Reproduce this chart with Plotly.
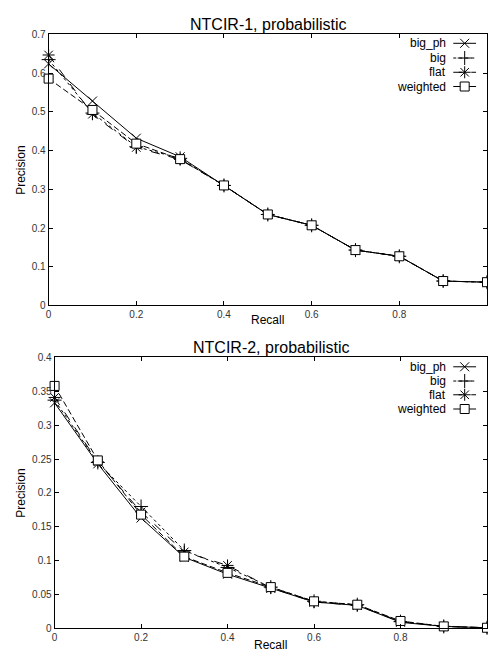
import plotly.graph_objects as go

W, H = 488, 657

RECALL = [0.0, 0.1, 0.2, 0.3, 0.4, 0.5, 0.6, 0.7, 0.8, 0.9, 1.0]

# NTCIR-1, probabilistic
N1_BIG_PH = [0.624, 0.528, 0.432, 0.384, 0.310, 0.235, 0.207, 0.143, 0.127, 0.063, 0.060]
N1_BIG = [0.635, 0.497, 0.410, 0.380, 0.310, 0.235, 0.207, 0.143, 0.127, 0.063, 0.060]
N1_FLAT = [0.647, 0.494, 0.408, 0.377, 0.310, 0.235, 0.207, 0.143, 0.127, 0.063, 0.060]
N1_WEIGHTED = [0.586, 0.505, 0.418, 0.378, 0.310, 0.235, 0.207, 0.143, 0.127, 0.063, 0.060]

# NTCIR-2, probabilistic
N2_BIG_PH = [0.333, 0.243, 0.163, 0.105, 0.080, 0.059, 0.039, 0.034, 0.009, 0.003, 0.001]
N2_BIG = [0.337, 0.245, 0.180, 0.115, 0.090, 0.061, 0.040, 0.035, 0.010, 0.003, 0.001]
N2_FLAT = [0.341, 0.246, 0.172, 0.113, 0.093, 0.060, 0.039, 0.034, 0.010, 0.003, 0.001]
N2_WEIGHTED = [0.358, 0.248, 0.168, 0.106, 0.082, 0.061, 0.040, 0.035, 0.011, 0.003, 0.001]

SERIES_NAMES = ["big_ph", "big", "flat", "weighted"]
TITLES = ["NTCIR-1, probabilistic", "NTCIR-2, probabilistic"]
X_TICKS = [0, 0.2, 0.4, 0.6, 0.8, 1.0]
X_TICK_TEXT = ["0", "0.2", "0.4", "0.6", "0.8", "1"]
Y1_TICKS = [0, 0.1, 0.2, 0.3, 0.4, 0.5, 0.6, 0.7]
Y1_TICK_TEXT = ["0", "0.1", "0.2", "0.3", "0.4", "0.5", "0.6", "0.7"]
Y2_TICKS = [0, 0.05, 0.1, 0.15, 0.2, 0.25, 0.3, 0.35, 0.4]
Y2_TICK_TEXT = ["0", "0.05", "0.1", "0.15", "0.2", "0.25", "0.3", "0.35", "0.4"]

FONT = "Liberation Sans, Arial, Helvetica, sans-serif"
STYLES = {
    "big_ph": dict(dash="solid", symbol="x-thin", size=9, fill="black"),
    "big": dict(dash="dot", symbol="cross-thin", size=10, fill="black"),
    "flat": dict(dash="dash", symbol="asterisk", size=10, fill="black"),
    "weighted": dict(dash="6px,3px", symbol="square", size=9, fill="white"),
}

# panel boxes in page pixels; x = 1 sits on the right edge of the page
PANELS = [
    dict(left=46, top=29, bottom=305, legend_y=[38, 53, 67.5, 82], recall_y=320),
    dict(left=52, top=358, bottom=634, legend_y=[367.5, 382, 396, 410.5], recall_y=651),
]

fig = go.Figure()


def add_series(xa, ya, name, ys):
    st = STYLES[name]
    fig.add_trace(go.Scatter(
        x=RECALL, y=ys, mode="lines+markers", name=name, xaxis=xa, yaxis=ya,
        showlegend=False, cliponaxis=False,
        line=dict(color="black", width=1, dash=st["dash"]),
        marker=dict(symbol=st["symbol"], size=st["size"], color=st["fill"],
                    line=dict(color="black", width=1)),
    ))


for (xa, ya), data in zip([("x", "y"), ("x2", "y2")], [
    (N1_BIG_PH, N1_BIG, N1_FLAT, N1_WEIGHTED),
    (N2_BIG_PH, N2_BIG, N2_FLAT, N2_WEIGHTED),
]):
    for name, ys in zip(SERIES_NAMES, data):
        add_series(xa, ya, name, ys)

# hand-drawn legends (text left of the sample, gnuplot style) on a page-pixel overlay axis
for p in PANELS:
    for name, yy in zip(SERIES_NAMES, p["legend_y"]):
        st = STYLES[name]
        fig.add_trace(go.Scatter(
            x=[454, 477], y=[yy, yy], mode="lines", xaxis="x3", yaxis="y3", showlegend=False,
            line=dict(color="black", width=1, dash=st["dash"] if name != "weighted" else "solid"),
            hoverinfo="skip",
        ))
        fig.add_trace(go.Scatter(
            x=[465.5], y=[yy], mode="markers", xaxis="x3", yaxis="y3", showlegend=False,
            marker=dict(symbol=st["symbol"], size=st["size"], color=st["fill"],
                        line=dict(color="black", width=1)),
            hoverinfo="skip",
        ))
        fig.add_annotation(x=449, y=yy, xref="x3", yref="y3", text=name, showarrow=False,
                           xanchor="right", yanchor="middle",
                           font=dict(family=FONT, size=12, color="black"))

for p, title in zip(PANELS, TITLES):
    cx = (p["left"] + W) / 2
    fig.add_annotation(x=cx, y=p["top"] - 10, xref="x3", yref="y3", text=title, showarrow=False,
                       xanchor="center", yanchor="middle",
                       font=dict(family=FONT, size=16, color="black"))
    fig.add_annotation(x=cx, y=p["recall_y"], xref="x3", yref="y3", text="Recall", showarrow=False,
                       xanchor="center", yanchor="middle",
                       font=dict(family=FONT, size=12, color="black"))
    fig.add_annotation(x=18, y=(p["top"] + p["bottom"]) / 2, xref="x3", yref="y3", text="Precision",
                       showarrow=False, textangle=-90, xanchor="center", yanchor="middle",
                       font=dict(family=FONT, size=12, color="black"))


def xdom(p):
    return [p["left"] / W, 1]


def ydom(p):
    return [1 - p["bottom"] / H, 1 - p["top"] / H]


common_axis = dict(showline=True, linecolor="black", linewidth=1, mirror="ticks",
                   ticks="inside", ticklen=4, tickcolor="black", tickwidth=1,
                   showgrid=False, zeroline=False,
                   tickfont=dict(family=FONT, size=10, color="#333333"))

fig.update_layout(
    width=W, height=H,
    margin=dict(l=0, r=0, t=0, b=0),
    paper_bgcolor="white", plot_bgcolor="rgba(0,0,0,0)",
    showlegend=False,
    xaxis=dict(domain=xdom(PANELS[0]), anchor="y", range=[0, 1],
               tickvals=X_TICKS, ticktext=X_TICK_TEXT, **common_axis),
    yaxis=dict(domain=ydom(PANELS[0]), anchor="x",
               range=[0, 0.7], tickvals=Y1_TICKS, ticktext=Y1_TICK_TEXT, **common_axis),
    xaxis2=dict(domain=xdom(PANELS[1]), anchor="y2", range=[0, 1],
                tickvals=X_TICKS, ticktext=X_TICK_TEXT, **common_axis),
    yaxis2=dict(domain=ydom(PANELS[1]), anchor="x2",
                range=[0, 0.4], tickvals=Y2_TICKS, ticktext=Y2_TICK_TEXT, **common_axis),
    xaxis3=dict(domain=[0, 1], anchor="y3", range=[0, W], visible=False, fixedrange=True),
    yaxis3=dict(domain=[0, 1], anchor="x3", range=[H, 0], visible=False, fixedrange=True),
)

# drop the browser's default body margin so the figure fills the window exactly
fig.write_html("out.html", config={"displayModeBar": False},
               post_script="document.body.style.margin='0';document.body.style.overflow='hidden';")
